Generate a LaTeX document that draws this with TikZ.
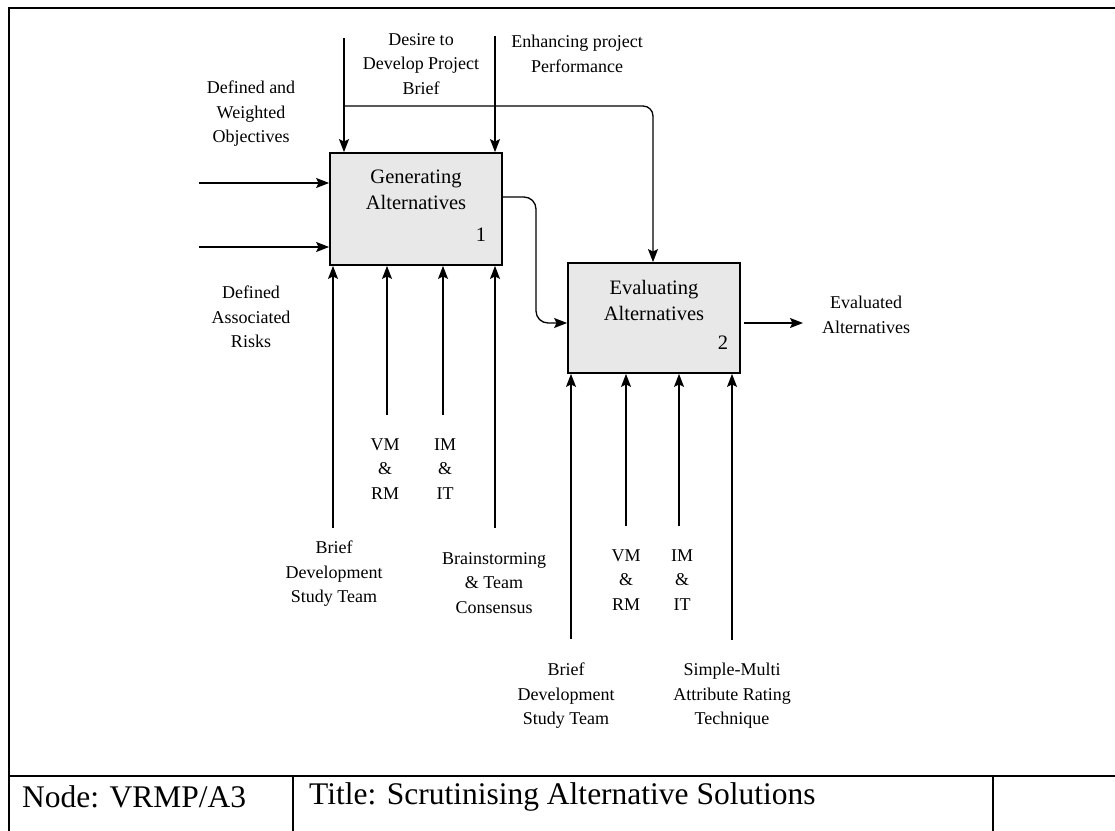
\documentclass[tikz,border=0pt]{standalone}
\usepackage{fontspec}
\setmainfont{Liberation Serif}
\usetikzlibrary{arrows.meta}
\definecolor{boxgray}{RGB}{232,232,232}
\begin{document}
\begin{tikzpicture}[x=1pt,y=-1pt,
  flow/.style={line width=1.3pt,-{Stealth[length=13pt,width=10pt,inset=2.5pt]}},
  actbox/.style={draw,line width=1.8pt,fill=boxgray,minimum width=172pt,inner sep=0pt},
  boxtext/.style={font=\fontsize{20.5}{26}\selectfont,align=center,inner sep=0pt},
  lbl/.style={font=\fontsize{18}{24.5}\selectfont,align=center,inner sep=0pt},
  frameline/.style={line width=2.8pt},
  titletext/.style={font=\fontsize{31.5}{36}\selectfont,anchor=west,inner sep=0pt}
]
\useasboundingbox (0,0) rectangle (1115,830);
\clip (0,0) rectangle (1115,830);

% sheet frame and title row
\draw[frameline] (9,840) -- (9,8) -- (1125,8);
\draw[frameline] (9,776) -- (1125,776);
\draw[frameline] (293,776) -- (293,840);
\draw[frameline] (993,776) -- (993,840);
\node[titletext] (nodeid) at (22,797) {Node: VRMP/A3};
\node[titletext] (title) at (309,797) {Title: Scrutinising Alternative Solutions};

% activity boxes
\node[actbox,minimum height=112pt] (gen) at (416,209) {};
\node[boxtext] (gentext) at (416,190) {Generating\\Alternatives};
\node[boxtext] (gennum) at (481,235) {1};
\node[actbox,minimum height=110pt] (eval) at (654,318) {};
\node[boxtext] (evaltext) at (654,300) {Evaluating\\Alternatives};
\node[boxtext] (evalnum) at (723,343) {2};

% controls
\coordinate (c1) at (344,38);
\coordinate (c2) at (495,36);
\coordinate (split) at (344,106);
\coordinate (ctop) at (653,0);
\draw[flow] (c1) -- (c1 |- gen.north);
\draw[flow] (c2) -- (c2 |- gen.north);
\draw[flow,rounded corners=10pt] (split) -| (ctop |- eval.north);

% inputs
\coordinate (i1) at (199,183);
\coordinate (i2) at (199,247);
\draw[flow] (i1) -- (i1 -| gen.west);
\draw[flow] (i2) -- (i2 -| gen.west);

% output of box 1 feeding box 2
\draw[flow,rounded corners=12pt] (gen.east |- 0,197) -- (536,197) -- (536,323) -- (eval.west |- 0,323);

% final output
\coordinate (o1) at (803,323);
\draw[flow] ([xshift=3pt]eval.east |- o1) -- (o1);

% mechanisms of box 1
\coordinate (m1) at (333,528);
\coordinate (m2) at (387,415);
\coordinate (m3) at (443,415);
\coordinate (m4) at (495,528);
\foreach \m in {m1,m2,m3,m4} \draw[flow] (\m) -- (\m |- gen.south);

% mechanisms of box 2
\coordinate (n1) at (571,639);
\coordinate (n2) at (626,526);
\coordinate (n3) at (679,526);
\coordinate (n4) at (732,640);
\foreach \m in {n1,n2,n3,n4} \draw[flow] (\m) -- (\m |- eval.south);

% labels
\node[lbl] (ldesire) at (421,64) {Desire to\\Develop Project\\Brief};
\node[lbl] (lenh) at (577,54) {Enhancing project\\Performance};
\node[lbl] (lobj) at (251,114) {Defined and\\Weighted\\Objectives};
\node[lbl] (lrisk) at (251,317) {Defined\\Associated\\Risks};
\node[lbl] (lvm1) at (385,469) {VM\\\&\\RM};
\node[lbl] (lim1) at (445,469) {IM\\\&\\IT};
\node[lbl] (lteam1) at (334,574) {Brief\\Development\\Study Team};
\node[lbl] (lbrain) at (494,583) {Brainstorming\\\& Team\\Consensus};
\node[lbl] (lvm2) at (626,580) {VM\\\&\\RM};
\node[lbl] (lim2) at (682,580) {IM\\\&\\IT};
\node[lbl] (lteam2) at (566,696) {Brief\\Development\\Study Team};
\node[lbl] (lsmart) at (732,696) {Simple-Multi\\Attribute Rating\\Technique};
\node[lbl] (lout) at (866,315) {Evaluated\\Alternatives};
\end{tikzpicture}
\end{document}
